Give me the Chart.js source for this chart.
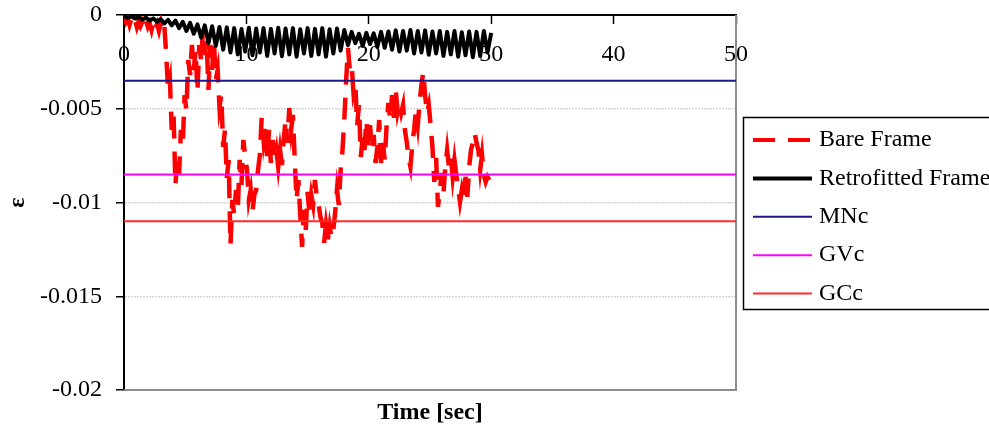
<!DOCTYPE html>
<html>
<head>
<meta charset="utf-8">
<script src="https://cdn.jsdelivr.net/npm/chart.js@4.4.1/dist/chart.umd.min.js"></script>
<style>
  html, body { margin: 0; padding: 0; background: #ffffff; }
  canvas { display: block; }
</style>
</head>
<body>
<canvas id="strainChart" width="989" height="436"></canvas>
<script>
// Sampling interval of each record (seconds)
const bareStep = 0.15;
const retroStep = 0.3;

// Strain history of the bare frame
const bareFrame = [
  -0.0001, -0.00037, -0.00016, -0.00053, -0.00021, -0.00048, -0.00027, -0.00064, -0.00032, -0.00059,
  -0.00037, -0.00069, -0.00032, -0.00064, -0.00043, -0.0008, -0.00037, -0.00075, -0.00048, -0.00085,
  -0.00043, -0.00091, -0.00059, -0.00213, -0.004, -0.00347, -0.00613, -0.00533, -0.00906, -0.00773,
  -0.00853, -0.00613, -0.00693, -0.00427, -0.00507, -0.0024, -0.0032, -0.0016, -0.00293, -0.00187,
  -0.0041, -0.0016, -0.0024, -0.0008, -0.00213, -0.00133, -0.004, -0.0016, -0.00293, -0.00144,
  -0.00347, -0.00293, -0.0049, -0.00427, -0.00704, -0.00613, -0.00869, -0.00773, -0.01226, -0.00986,
  -0.01066, -0.00933, -0.01029, -0.00773, -0.00906, -0.00666, -0.00757, -0.00826, -0.00986, -0.00933,
  -0.0105, -0.00959, -0.00933, -0.00826, -0.00746, -0.00544, -0.00666, -0.00587, -0.00773, -0.00613,
  -0.00789, -0.00666, -0.00773, -0.0072, -0.0081, -0.0072, -0.008, -0.00666, -0.0056, -0.00682,
  -0.00496, -0.00613, -0.00533, -0.00773, -0.00986, -0.0088, -0.01066, -0.01237, -0.01039, -0.01146,
  -0.00943, -0.01055, -0.00959, -0.01013, -0.0088, -0.0097, -0.01013, -0.01077, -0.01109, -0.01215,
  -0.0112, -0.01199, -0.01125, -0.01189, -0.01146, -0.01055, -0.00933, -0.01013, -0.00826, -0.0072,
  -0.0056, -0.00347, -0.00176, -0.00293, -0.00267, -0.00416, -0.00373, -0.00587, -0.0048, -0.00757,
  -0.0065, -0.0072, -0.0056, -0.00693, -0.00587, -0.0072, -0.0064, -0.00789, -0.00704, -0.0056,
  -0.00789, -0.00682, -0.00773, -0.00597, -0.00469, -0.0056, -0.00427, -0.00549, -0.004, -0.00517,
  -0.00469, -0.00522, -0.0048, -0.00613, -0.00677, -0.00762, -0.0081, -0.00693, -0.00613, -0.00507,
  -0.00587, -0.00469, -0.00373, -0.00304, -0.00427, -0.00522, -0.0048, -0.00587, -0.00704, -0.0089,
  -0.00762, -0.01023, -0.00943, -0.00842, -0.00949, -0.0081, -0.0072, -0.0081, -0.00757, -0.00863,
  -0.00773, -0.00853, -0.00922, -0.00997, -0.00933, -0.00986, -0.00863, -0.0097, -0.0081, -0.0072,
  -0.00682, -0.00629, -0.00682, -0.0072, -0.00826, -0.00746, -0.00853, -0.0089, -0.00863, -0.0088
];

// Strain history of the retrofitted frame
const retrofittedFrame = [
  -0.00005, -0.00016, -0.00008, -0.00019, -0.00011, -0.00024, -0.00014, -0.0003, -0.00018, -0.00036,
  -0.00022, -0.00045, -0.00026, -0.00055, -0.0003, -0.0007, -0.00036, -0.00085, -0.00042, -0.001,
  -0.0005, -0.0012, -0.00055, -0.0015, -0.0006, -0.00165, -0.00064, -0.00185, -0.00066, -0.002,
  -0.0007, -0.0021, -0.00075, -0.00195, -0.00068, -0.00215, -0.00072, -0.002, -0.0007, -0.00218,
  -0.00074, -0.00205, -0.00068, -0.0022, -0.00072, -0.0021, -0.0007, -0.00222, -0.00076, -0.00205,
  -0.0007, -0.00218, -0.00074, -0.0021, -0.0007, -0.00222, -0.00076, -0.00205, -0.00072, -0.0019,
  -0.0008, -0.0016, -0.0009, -0.0015, -0.001, -0.00165, -0.00095, -0.00155, -0.00098, -0.0017,
  -0.0009, -0.00175, -0.00088, -0.00185, -0.00082, -0.00195, -0.00085, -0.0019, -0.0008, -0.00205,
  -0.00085, -0.002, -0.00082, -0.00212, -0.00088, -0.00205, -0.00085, -0.00218, -0.0009, -0.0021,
  -0.00085, -0.00222, -0.00092, -0.00215, -0.00088, -0.00225, -0.0009, -0.00218, -0.00085, -0.002,
  -0.00095
];

// Critical strain limits
const limitMNc = -0.0035;
const limitGVc = -0.0085;
const limitGCc = -0.011;

// Axis ranges and tick labels
const timeRange = [0, 50];
const timeTickStep = 10;
const strainRange = [-0.02, 0];
const strainTickStep = 0.005;
const strainTickLabels = ['-0.02', '-0.015', '-0.01', '-0.005', '0'];

const serif = '"Liberation Serif", "Times New Roman", serif';

const toPoints = (values, step) => values.map((v, i) => ({ x: +(i * step).toFixed(3), y: v }));
const flatLine = (v) => [{ x: timeRange[0], y: v }, { x: timeRange[1], y: v }];

const datasets = [
  { label: 'Bare Frame', data: toPoints(bareFrame, bareStep), borderColor: '#ff0000',
    borderWidth: 4.5, borderDash: [22, 13], order: 5 },
  { label: 'Retrofitted Frame', data: toPoints(retrofittedFrame, retroStep), borderColor: '#000000',
    borderWidth: 4, order: 4, borderJoinStyle: 'round' },
  { label: 'MNc', data: flatLine(limitMNc), borderColor: '#1a1a8c', borderWidth: 2, order: 3 },
  { label: 'GVc', data: flatLine(limitGVc), borderColor: '#ff00ff', borderWidth: 2, order: 2 },
  { label: 'GCc', data: flatLine(limitGCc), borderColor: '#ff2a2a', borderWidth: 2, order: 1 }
].map(ds => Object.assign({ pointRadius: 0, tension: 0, fill: false, borderCapStyle: 'butt',
  borderJoinStyle: 'miter' }, ds));

// Plot frame, x-axis caption and boxed legend
const decorations = {
  id: 'decorations',
  beforeDatasetsDraw(chart) {
    const { ctx, chartArea: a } = chart;
    ctx.save();
    ctx.strokeStyle = '#8c8c8c';
    ctx.lineWidth = 2;
    ctx.beginPath();
    ctx.moveTo(a.left, a.bottom);
    ctx.lineTo(a.right, a.bottom);
    ctx.lineTo(a.right, a.top);
    ctx.stroke();
    ctx.restore();
  },
  afterDraw(chart) {
    const { ctx, chartArea: a } = chart;
    ctx.save();
    ctx.fillStyle = '#000';
    ctx.font = 'bold 24px ' + serif;
    ctx.textAlign = 'center';
    ctx.textBaseline = 'middle';
    ctx.fillText('Time [sec]', (a.left + a.right) / 2, 413);

    // legend box
    const boxLeft = 743, boxTop = 117, boxBottom = 309;
    ctx.strokeStyle = '#000';
    ctx.lineWidth = 1.5;
    ctx.strokeRect(boxLeft + 0.5, boxTop + 0.5, 300, boxBottom - boxTop);
    ctx.font = '24px ' + serif;
    ctx.textAlign = 'left';
    chart.data.datasets.forEach((ds, i) => {
      const y = boxTop + 23 + i * 38.4;
      ctx.strokeStyle = ds.borderColor;
      ctx.lineWidth = Math.min(ds.borderWidth, 4);
      ctx.setLineDash(ds.borderDash || []);
      ctx.beginPath();
      ctx.moveTo(753, y);
      ctx.lineTo(812, y);
      ctx.stroke();
      ctx.setLineDash([]);
      ctx.fillText(ds.label, 819, y);
    });
    ctx.restore();
  }
};

new Chart(document.getElementById('strainChart'), {
  type: 'line',
  data: { datasets },
  plugins: [decorations],
  options: {
    responsive: false,
    animation: false,
    devicePixelRatio: 1,
    layout: { padding: { top: 15, right: 253, bottom: 46, left: 0 } },
    plugins: { legend: { display: false }, tooltip: { enabled: false } },
    scales: {
      x: {
        type: 'linear',
        min: timeRange[0],
        max: timeRange[1],
        position: { y: 0 },
        ticks: { stepSize: timeTickStep, color: '#000', font: { family: serif, size: 24 },
          padding: 17, maxRotation: 0 },
        grid: { drawOnChartArea: false, tickLength: 8, tickColor: '#000', tickWidth: 1.5 },
        border: { color: '#000', width: 2 }
      },
      y: {
        type: 'linear',
        position: 'left',
        min: strainRange[0],
        max: strainRange[1],
        ticks: { stepSize: strainTickStep, color: '#000', font: { family: serif, size: 24 },
          padding: 14, callback: (v, i) => strainTickLabels[i] },
        grid: {
          color: (c) => (c.index === 0 || c.index === strainTickLabels.length - 1) ? 'rgba(0,0,0,0)' : '#d6d6d6',
          lineWidth: 1.5, tickLength: 8, tickColor: '#000', tickWidth: 1.5
        },
        border: { color: '#000', width: 2, dash: [2, 1] },
        title: { display: true, text: 'ε', color: '#000',
          font: { family: serif, size: 24, weight: 'bold' }, padding: { top: 3, bottom: 0 } },
        afterFit: (scale) => {
          scale.width = 124;
          scale.paddingTop = 0;
          scale.paddingBottom = 0;
        }
      }
    }
  }
});
</script>
</body>
</html>
